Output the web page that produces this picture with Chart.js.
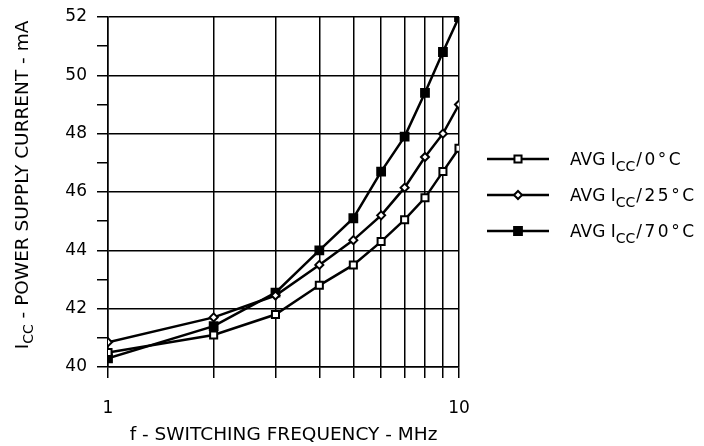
<!DOCTYPE html>
<html>
<head>
<meta charset="utf-8">
<script src="https://cdn.jsdelivr.net/npm/chart.js@4"></script>
<style>
  html, body { margin: 0; padding: 0; background: #fff; }
  #wrap { position: relative; width: 704px; height: 446px; }
</style>
</head>
<body>
<div id="wrap"><canvas id="c" width="704" height="446"></canvas></div>
<script>
// ---- data ----
const freqMHz = [1, 2, 3, 4, 5, 6, 7, 8, 9, 10];
const icc0C  = [40.5, 41.1, 41.8, 42.8, 43.5, 44.3, 45.05, 45.8, 46.7, 47.5];
const icc25C = [40.85, 41.7, 42.45, 43.5, 44.35, 45.2, 46.15, 47.2, 48.0, 49.0];
const icc70C = [40.3, 41.4, 42.55, 44.0, 45.1, 46.7, 47.9, 49.4, 50.8, 52.0];
const seriesNames = ['0°C', '25°C', '70°C'];
const xTickLabels = [1, 10];
const yMin = 40, yMax = 52, yLabelStep = 2;

const FONT = '"DejaVu Sans", sans-serif';

function pts(vals) { return freqMHz.map((f, i) => ({ x: f, y: vals[i] })); }

const legendAndTitle = {
  id: 'legendAndTitle',
  afterDraw(chart) {
    const ctx = chart.ctx;
    ctx.save();
    ctx.fillStyle = '#000';
    ctx.textBaseline = 'alphabetic';
    // Y axis title with subscript
    ctx.translate(28, 185);
    ctx.rotate(-Math.PI / 2);
    const mainF = '18.5px ' + FONT, subF = '14px ' + FONT;
    ctx.font = mainF;
    const p1 = 'I', p3 = ' - POWER SUPPLY CURRENT - mA';
    const w1 = ctx.measureText(p1).width, w3 = ctx.measureText(p3).width;
    ctx.font = subF;
    const w2 = ctx.measureText('CC').width;
    let x = -(w1 + w2 + w3) / 2;
    ctx.font = mainF; ctx.textAlign = 'left';
    ctx.fillText(p1, x, 0); x += w1;
    ctx.font = subF; ctx.fillText('CC', x, 5); x += w2;
    ctx.font = mainF; ctx.fillText(p3, x, 0);
    ctx.restore();

    // Legend
    ctx.save();
    const rows = [159, 195, 231];
    chart.data.datasets.forEach((ds, i) => {
      const y = rows[i];
      ctx.strokeStyle = '#000';
      ctx.lineWidth = 2.5;
      ctx.beginPath(); ctx.moveTo(487, y); ctx.lineTo(549, y); ctx.stroke();
      ctx.fillStyle = ds.pointBackgroundColor; ctx.strokeStyle = '#000';
      ctx.lineWidth = ds.pointBorderWidth;
      Chart.helpers.drawPoint(ctx, {
        pointStyle: ds.pointStyle, radius: ds.pointRadius, borderWidth: ds.pointBorderWidth, rotation: 0
      }, 518, y);
      ctx.fillStyle = '#000';
      ctx.textAlign = 'left';
      let tx = 570;
      const lf = '17px ' + FONT, ls = '14px ' + FONT;
      ctx.letterSpacing = '0px';
      ctx.font = lf; ctx.fillText('AVG I', tx, y + 6); tx += ctx.measureText('AVG I').width;
      ctx.font = ls; ctx.fillText('CC', tx, y + 12); tx += ctx.measureText('CC').width + 1;
      ctx.letterSpacing = '2.5px';
      ctx.font = lf; ctx.fillText('/' + seriesNames[i], tx, y + 6);
      ctx.letterSpacing = '0px';
    });
    ctx.restore();
  }
};

const common = { borderColor: '#000', borderWidth: 2.5, tension: 0, pointBorderColor: '#000', pointBorderWidth: 2 };

new Chart(document.getElementById('c'), {
  type: 'line',
  data: {
    datasets: [
      Object.assign({ label: 'AVG ICC/0°C', data: pts(icc0C), pointStyle: 'rect', pointRadius: 5, pointBackgroundColor: '#fff' }, common),
      Object.assign({ label: 'AVG ICC/25°C', data: pts(icc25C), pointStyle: 'rectRot', pointRadius: 4, pointBackgroundColor: '#fff' }, common),
      Object.assign({ label: 'AVG ICC/70°C', data: pts(icc70C), pointStyle: 'rect', pointRadius: 5.5, pointBackgroundColor: '#000' }, common)
    ]
  },
  options: {
    responsive: false,
    animation: false,
    devicePixelRatio: 1,
    layout: { padding: { top: 17, right: 245, left: 0, bottom: 0 } },
    plugins: { legend: { display: false }, tooltip: { enabled: false } },
    scales: {
      x: {
        type: 'logarithmic',
        min: 1, max: 10,
        afterFit(s) { s.height = 79; },
        afterBuildTicks(s) { s.ticks = freqMHz.map(v => ({ value: v })); },
        border: { display: true, color: '#000', width: 1.5 },
        grid: { color: '#000', lineWidth: 1.5, tickLength: 11, tickColor: '#000' },
        ticks: {
          color: '#000', font: { family: FONT, size: 17 }, maxRotation: 0, autoSkip: false, padding: 20,
          callback: (v) => xTickLabels.includes(v) ? String(v) : ''
        },
        title: { display: true, text: 'f - SWITCHING FREQUENCY - MHz', color: '#000', font: { family: FONT, size: 18.5 }, padding: { top: 4, bottom: 0 } }
      },
      y: {
        min: yMin, max: yMax,
        afterFit(s) { s.width = 108; s.paddingTop = 0; s.paddingBottom = 0; },
        border: { display: true, color: '#000', width: 1.5 },
        grid: {
          lineWidth: 1.5, tickLength: 11,
          color: (c) => (c.tick && c.tick.value % yLabelStep === 0) ? '#000' : 'rgba(0,0,0,0)',
          tickColor: '#000'
        },
        ticks: {
          stepSize: 1, color: '#000', font: { family: FONT, size: 17 }, padding: 10, autoSkip: false,
          callback: (v) => v % yLabelStep === 0 ? String(v) : ''
        }
      }
    }
  },
  plugins: [legendAndTitle]
});
</script>
</body>
</html>
